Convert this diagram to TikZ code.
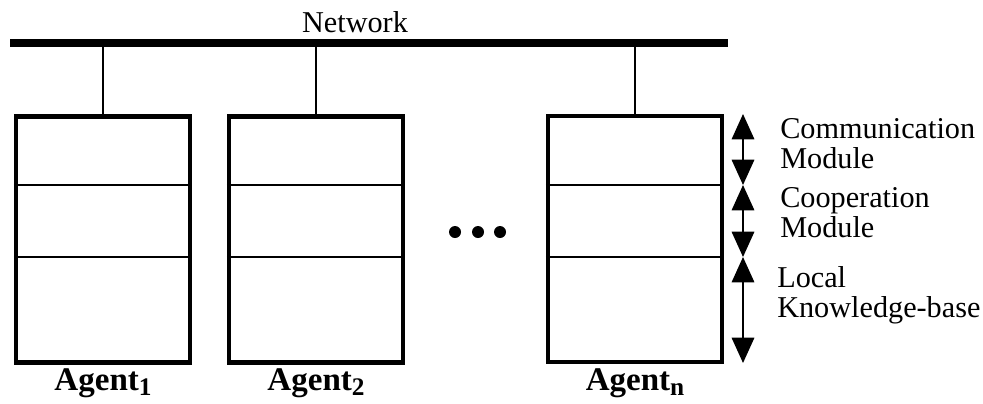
\documentclass[tikz,border=0pt]{standalone}
\usepackage{fontspec}
\setmainfont{Liberation Serif}
\usetikzlibrary{arrows.meta}

\newcommand{\agentlabel}[1]{\textbf{Agent\raisebox{-4pt}{\fontsize{18}{18}\selectfont #1}}}

\begin{document}
\begin{tikzpicture}
[x=0.025cm,y=-0.025cm,
 agentbox/.style={rectangle,draw,line width=3pt,inner sep=0pt,minimum width=4.35cm,minimum height=6.15cm},
 divider/.style={line width=1.4pt},
 link/.style={line width=1.4pt},
 netbar/.style={line width=5pt},
 modtext/.style={anchor=west,align=left,inner sep=0pt,font=\fontsize{21.5}{21.3}\selectfont},
 agenttext/.style={anchor=base,inner sep=0pt,font=\fontsize{23.5}{23.5}\selectfont},
 dimarrow/.style={line width=1.2pt,{Triangle[width=16pt,length=18pt]}-{Triangle[width=16pt,length=18pt]}}]

\useasboundingbox (0,0) rectangle (983,403);

% network
\coordinate (netL) at (10,43);
\coordinate (netR) at (728,43);
\draw[netbar] (netL) -- (netR);
\node (net) at (355,22) [font=\fontsize{21.5}{21.5}\selectfont,inner sep=0pt] {Network};

% agents
\node (a1) at (103,239.5) [agentbox] {};
\node (a2) at (316,239.5) [agentbox] {};
\node (an) at (635,239) [agentbox] {};

\foreach \ag in {a1,a2,an} {
	\draw[link] (\ag.north) -- (\ag.north |- netL);
	\draw[divider] (\ag.west |- 0,185) -- (\ag.east |- 0,185);
	\draw[divider] (\ag.west |- 0,257) -- (\ag.east |- 0,257);
}

\node (l1) at (103,390) [agenttext] {\agentlabel{1}};
\node (l2) at (316,390) [agenttext] {\agentlabel{2}};
\node (ln) at (635,390) [agenttext] {\agentlabel{n}};

% dots
\foreach \x in {455,478,500}
	\fill (\x,232) circle (6);

% modules
\coordinate (m0) at (743,114);
\coordinate (m1) at (743,185);
\coordinate (m2) at (743,257);
\coordinate (m3) at (743,363);
\draw[dimarrow] (m0) -- (m1);
\draw[dimarrow] (m1) -- (m2);
\draw[dimarrow] (m2) -- (m3);

\node (comm) at (780,144) [modtext] {Communication\\Module};
\node (coop) at (780,213) [modtext] {Cooperation\\Module};
\node (kb) at (777,295) [modtext] {Local\\Knowledge-base};

\end{tikzpicture}
\end{document}
